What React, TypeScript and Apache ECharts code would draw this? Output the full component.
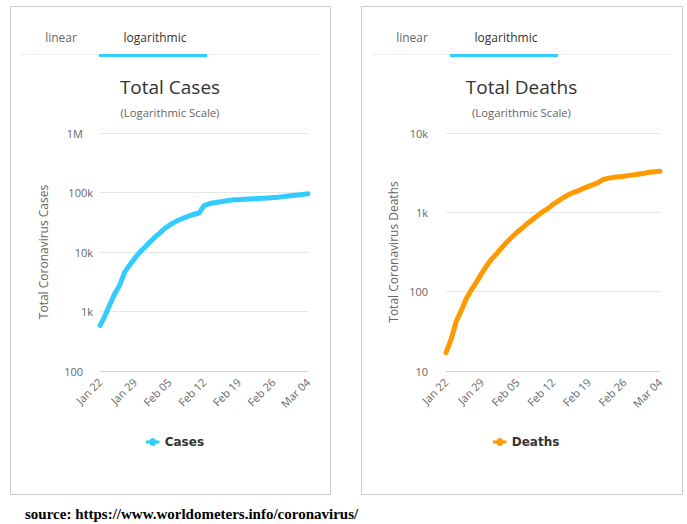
import React, { useEffect, useRef } from "react";
import * as echarts from "echarts";

const dates = [
  "Jan 22", "Jan 23", "Jan 24", "Jan 25", "Jan 26", "Jan 27", "Jan 28", "Jan 29", "Jan 30", "Jan 31",
  "Feb 01", "Feb 02", "Feb 03", "Feb 04", "Feb 05", "Feb 06", "Feb 07", "Feb 08", "Feb 09", "Feb 10",
  "Feb 11", "Feb 12", "Feb 13", "Feb 14", "Feb 15", "Feb 16", "Feb 17", "Feb 18", "Feb 19", "Feb 20",
  "Feb 21", "Feb 22", "Feb 23", "Feb 24", "Feb 25", "Feb 26", "Feb 27", "Feb 28", "Feb 29",
  "Mar 01", "Mar 02", "Mar 03", "Mar 04",
];

const totalCases = [
  580, 845, 1317, 2015, 2800, 4581, 6058, 7813, 9823, 11950,
  14553, 17391, 20630, 24554, 28276, 31481, 34886, 37558, 40554, 43103,
  45171, 60327, 64543, 67103, 69265, 71332, 73327, 75191, 75723, 76719,
  77804, 78812, 79339, 80132, 80995, 82101, 83365, 85203, 87024,
  89068, 90664, 93077, 95316,
];

const totalDeaths = [
  17, 25, 42, 58, 82, 106, 132, 170, 213, 259,
  304, 362, 426, 492, 565, 638, 724, 813, 910, 1018,
  1115, 1261, 1383, 1526, 1669, 1775, 1873, 2009, 2126, 2247,
  2400, 2618, 2699, 2763, 2800, 2858, 2923, 2977, 3050,
  3117, 3202, 3250, 3285,
];

const casesTickLabels: Record<number, string> = { 100: "100", 1000: "1k", 10000: "10k", 100000: "100k", 1000000: "1M" };
const deathsTickLabels: Record<number, string> = { 10: "10", 100: "100", 1000: "1k", 10000: "10k" };

const FONT = "'Open Sans', sans-serif";
const BLUE = "#33ccff";
const ORANGE = "#ff9900";

const legendIcon = "path://M0,2.5H3.6A3.5,3.5 0 0 1 10.4,2.5H14V5.5H10.4A3.5,3.5 0 0 1 3.6,5.5H0Z";

function panelGraphics(x: number, w: number, title: string, activeColor: string) {
  const cx = x + w / 2;
  return [
    { type: "rect", z: -10, shape: { x: x + 0.5, y: 6.5, width: w, height: 488 }, style: { fill: "#fff", stroke: "#cccccc", lineWidth: 1 } },
    { type: "line", shape: { x1: x + 11, y1: 54.5, x2: x + 310, y2: 54.5 }, style: { stroke: "#eeeeee", lineWidth: 1 } },
    { type: "rect", shape: { x: x + 89, y: 54, width: 108, height: 3 }, style: { fill: activeColor } },
    { type: "text", x: x + 51, y: 37, style: { text: "linear", font: `12px ${FONT}`, fill: "#666", align: "center", verticalAlign: "middle" } },
    { type: "text", x: x + 145, y: 37, style: { text: "logarithmic", font: `12px ${FONT}`, fill: "#333", align: "center", verticalAlign: "middle" } },
    { type: "text", x: cx, y: 87, style: { text: title, font: `19px ${FONT}`, fill: "#333", align: "center", verticalAlign: "middle" } },
    { type: "text", x: cx, y: 112, style: { text: "(Logarithmic Scale)", font: `11.3px ${FONT}`, fill: "#666", align: "center", verticalAlign: "middle" } },
  ];
}

export default function App() {
  const ref = useRef<HTMLDivElement>(null);

  useEffect(() => {
    if (!ref.current) return;
    const chart = echarts.init(ref.current, undefined, { renderer: "svg" });
    const xAxisBase = {
      type: "category",
      data: dates,
      boundaryGap: false,
      axisLine: { lineStyle: { color: "#ccd6eb" } },
      axisTick: { show: false },
      axisLabel: { interval: 6, rotate: 45, color: "#666", fontSize: 11, fontFamily: FONT, margin: 9 },
      splitLine: { show: false },
    };
    chart.setOption({
      animation: false,
      backgroundColor: "#ffffff",
      textStyle: { fontFamily: FONT },
      graphic: [
        ...panelGraphics(10, 320, "Total Cases", BLUE),
        ...panelGraphics(361, 321, "Total Deaths", BLUE),
        {
          type: "text", x: 25, y: 514,
          style: { text: "source: https://www.worldometers.info/coronavirus/", font: "bold 15px 'Liberation Serif', serif", fill: "#000", align: "left", verticalAlign: "middle" },
        },
      ],
      grid: [
        { left: 100, right: 687 - 308, top: 133, bottom: 524 - 371 },
        { left: 446, right: 687 - 660, top: 133, bottom: 524 - 371 },
      ],
      xAxis: [
        { ...xAxisBase, gridIndex: 0 },
        { ...xAxisBase, gridIndex: 1 },
      ],
      yAxis: [
        {
          type: "log", gridIndex: 0, logBase: 10, min: 100, max: 1000000,
          name: "Total Coronavirus Cases", nameLocation: "middle", nameGap: 51,
          nameTextStyle: { color: "#666", fontSize: 12, fontFamily: FONT },
          axisLine: { show: false }, axisTick: { show: false },
          axisLabel: {
            color: "#666", fontSize: 11, fontFamily: FONT, margin: 7,
            formatter: (v: number) => {
              const s = casesTickLabels[Math.round(v)] ?? String(v);
              return s.endsWith("k") ? s : `{p|${s}}`;
            },
            rich: { p: { color: "#666", fontSize: 11, fontFamily: FONT, padding: [0, 10, 0, 0] } },
          },
          splitLine: { lineStyle: { color: "#e6e6e6" } },
        },
        {
          type: "log", gridIndex: 1, logBase: 10, min: 10, max: 10000,
          name: "Total Coronavirus Deaths", nameLocation: "middle", nameGap: 47,
          nameTextStyle: { color: "#666", fontSize: 12, fontFamily: FONT },
          axisLine: { show: false }, axisTick: { show: false },
          axisLabel: {
            color: "#666", fontSize: 11, fontFamily: FONT, margin: 18,
            formatter: (v: number) => deathsTickLabels[Math.round(v)] ?? String(v),
          },
          splitLine: { lineStyle: { color: "#e6e6e6" } },
        },
      ],
      legend: [
        {
          data: [{ name: "Cases", icon: legendIcon }], left: 141, top: 431, itemWidth: 14, itemHeight: 8, itemGap: 5,
          textStyle: { color: "#333", fontWeight: "bold", fontSize: 12, fontFamily: "'DejaVu Sans', sans-serif" },
          selectedMode: false,
        },
        {
          data: [{ name: "Deaths", icon: legendIcon }], left: 488, top: 431, itemWidth: 14, itemHeight: 8, itemGap: 5,
          textStyle: { color: "#333", fontWeight: "bold", fontSize: 12, fontFamily: "'DejaVu Sans', sans-serif" },
          selectedMode: false,
        },
      ],
      series: [
        {
          name: "Cases", type: "line", xAxisIndex: 0, yAxisIndex: 0, data: totalCases,
          showSymbol: false, color: BLUE,
          lineStyle: { width: 5, color: BLUE, cap: "round", join: "round" },
        },
        {
          name: "Deaths", type: "line", xAxisIndex: 1, yAxisIndex: 1, data: totalDeaths,
          showSymbol: false, color: ORANGE,
          lineStyle: { width: 5, color: ORANGE, cap: "round", join: "round" },
        },
      ],
    });
    return () => chart.dispose();
  }, []);

  return (
    <div
      ref={ref}
      style={{ position: "absolute", left: 0, top: 0, width: 687, height: 524, background: "#fff" }}
    />
  );
}
